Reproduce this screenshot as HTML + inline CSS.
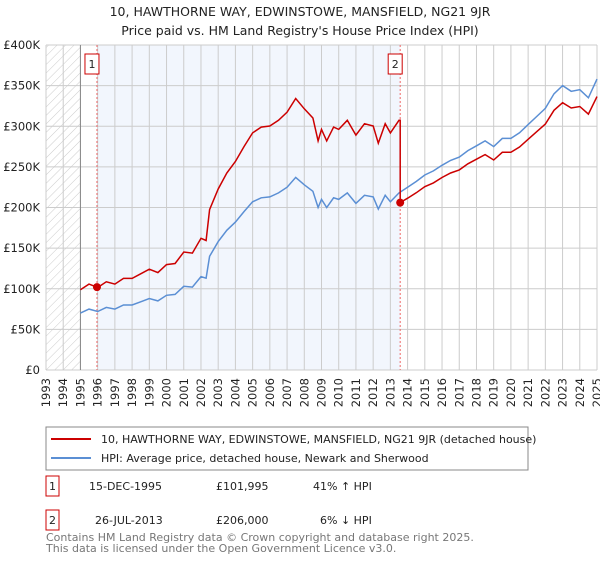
<!DOCTYPE html>
<html><head><meta charset="utf-8"><style>
body{margin:0;background:#fff;font-family:"Liberation Sans","DejaVu Sans",sans-serif;}
svg text{font-family:"DejaVu Sans","Liberation Sans",sans-serif;}
</style></head><body>
<svg id="chart" width="600" height="560" viewBox="0 0 600 560" xmlns="http://www.w3.org/2000/svg">
<defs><pattern id="hatch" width="6" height="6" patternUnits="userSpaceOnUse" patternTransform="rotate(45)"><line x1="0" y1="0" x2="0" y2="6" stroke="#ccc" stroke-width="1"/></pattern></defs>
<text x="300" y="16" text-anchor="middle" font-size="12.5" fill="#222">10, HAWTHORNE WAY, EDWINSTOWE, MANSFIELD, NG21 9JR</text>
<text x="300" y="35" text-anchor="middle" font-size="12.5" fill="#222">Price paid vs. HM Land Registry's House Price Index (HPI)</text>
<g id="plot"></g>
<g>
<rect x="46" y="427" width="482" height="43" fill="#fff" stroke="#888"/>
<line x1="51" y1="439" x2="91" y2="439" stroke="#cc0000" stroke-width="2"/>
<text x="101" y="443" font-size="11" fill="#222">10, HAWTHORNE WAY, EDWINSTOWE, MANSFIELD, NG21 9JR (detached house)</text>
<line x1="51" y1="458" x2="91" y2="458" stroke="#5b8fd4" stroke-width="2"/>
<text x="101" y="462" font-size="11" fill="#222">HPI: Average price, detached house, Newark and Sherwood</text>
</g>
<g font-size="11" fill="#222">
<rect x="46" y="476" width="13" height="20" fill="none" stroke="#cc0000"/><text x="52.5" y="490" text-anchor="middle">1</text>
<text x="89" y="490">15-DEC-1995</text><text x="216" y="490">£101,995</text><text x="313" y="490">41% ↑ HPI</text>
<rect x="46" y="510" width="13" height="20" fill="none" stroke="#cc0000"/><text x="52.5" y="524" text-anchor="middle">2</text>
<text x="95" y="524">26-JUL-2013</text><text x="216" y="524">£206,000</text><text x="320" y="524">6% ↓ HPI</text>
</g>
<text x="46" y="541" font-size="11" fill="#777">Contains HM Land Registry data © Crown copyright and database right 2025.</text>
<text x="46" y="552" font-size="11" fill="#777">This data is licensed under the Open Government Licence v3.0.</text>
</svg>
<script>
const years=[1995,1995.5,1996,1996.5,1997,1997.5,1998,1998.5,1999,1999.5,2000,2000.5,2001,2001.5,2002,2002.3,2002.5,2003,2003.5,2004,2004.5,2005,2005.5,2006,2006.5,2007,2007.5,2008,2008.5,2008.8,2009,2009.3,2009.7,2010,2010.5,2011,2011.5,2012,2012.3,2012.7,2013,2013.5,2014,2014.5,2015,2015.5,2016,2016.5,2017,2017.5,2018,2018.5,2019,2019.5,2020,2020.5,2021,2021.5,2022,2022.5,2023,2023.5,2024,2024.5,2025];
const hpi=[70,75,72,77,75,80,80,84,88,85,92,93,103,102,115,113,140,158,172,182,195,207,212,213,218,225,237,228,220,200,210,200,212,210,218,205,215,213,198,215,207,218,225,232,240,245,252,258,262,270,276,282,275,285,285,292,302,312,322,340,350,343,345,335,358];
const saleYears=[1995.96,2013.57];
const salePrices=[101.995,206];
const yTicks=[0,50,100,150,200,250,300,350,400];
const yTickLabels=["£0","£50K","£100K","£150K","£200K","£250K","£300K","£350K","£400K"];
const xTicks=[1993,1994,1995,1996,1997,1998,1999,2000,2001,2002,2003,2004,2005,2006,2007,2008,2009,2010,2011,2012,2013,2014,2015,2016,2017,2018,2019,2020,2021,2022,2023,2024,2025];
const ratios=[1.41,0.94];
const X=y=>46+(y-1993)*(551/32), Y=v=>370-v*(325/400);
const g=document.getElementById('plot');const NS='http://www.w3.org/2000/svg';
function el(t,a,p){const e=document.createElementNS(NS,t);for(const k in a)e.setAttribute(k,a[k]);(p||g).appendChild(e);return e;}
let r=el('rect',{x:X(1993),y:Y(400),width:X(1995)-X(1993),height:Y(0)-Y(400),fill:'url(#hatch)'});


r=el('rect',{x:X(saleYears[0]),y:Y(400),width:X(saleYears[1])-X(saleYears[0]),height:Y(0)-Y(400),fill:'#f2f6fd'});


xTicks.forEach(t=>{const l=el('line',{x1:X(t),x2:X(t),y1:Y(400),y2:Y(0),stroke:'#ccc'});


const tx=el('text',{x:0,y:0,'font-size':11.5,fill:'#222','text-anchor':'end',transform:`translate(${X(t)+4},378) rotate(-90)`});tx.textContent=t;

});
yTicks.forEach((t,i)=>{const l=el('line',{x1:X(1993),x2:X(2025),y1:Y(t),y2:Y(t),stroke:'#ccc'});


const tx=el('text',{x:40,y:Y(t)+4,'font-size':11.5,fill:'#222','text-anchor':'end'});tx.textContent=yTickLabels[i];

});
let l=el('line',{x1:X(1995),x2:X(1995),y1:Y(400),y2:Y(0),stroke:'#888'});


saleYears.forEach((s,i)=>{const v=el('line',{x1:X(s),x2:X(s),y1:Y(400),y2:Y(0),stroke:'#e66','stroke-dasharray':'2,2'});

});
const hp=years.map((y,i)=>`${X(y).toFixed(1)},${Y(hpi[i]).toFixed(1)}`).join(' ');
const hl=el('polyline',{points:hp,fill:'none',stroke:'#5b8fd4','stroke-width':1.5});


const pts=[];years.forEach((y,i)=>{if(y<saleYears[1])pts.push([y,hpi[i]*ratios[0]]);});
pts.push([saleYears[1],hpi[years.findIndex(y=>y>=saleYears[1])-1]*ratios[0]]);pts.push([saleYears[1],salePrices[1]]);
years.forEach((y,i)=>{if(y>saleYears[1])pts.push([y,hpi[i]*ratios[1]]);});
const pl=el('polyline',{points:pts.map(p=>`${X(p[0]).toFixed(1)},${Y(p[1]).toFixed(1)}`).join(' '),fill:'none',stroke:'#cc0000','stroke-width':1.5});


saleYears.forEach((s,i)=>{const c=el('circle',{cx:X(s),cy:Y(salePrices[i]),r:4,fill:'#cc0000'});


const b=el('rect',{x:X(s)-12,y:54,width:14,height:20,fill:'#fff',stroke:'#cc0000'});


const t=el('text',{x:X(s)-5,y:68,'font-size':11,fill:'#222','text-anchor':'middle'});t.textContent=i+1;

});
</script>
</body></html>
